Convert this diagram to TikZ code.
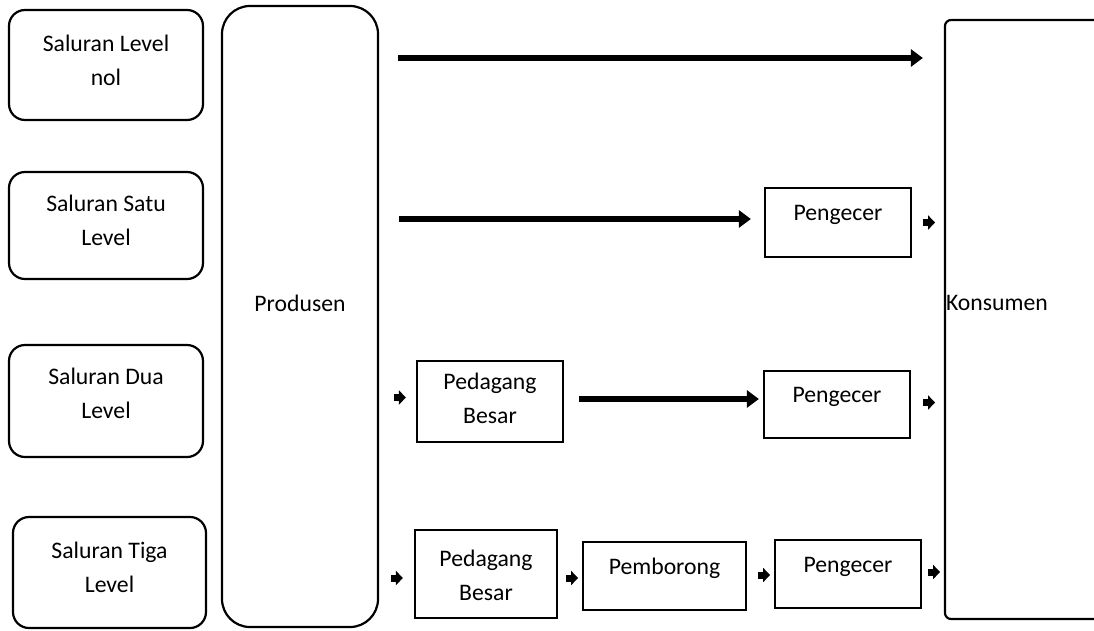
\documentclass[tikz,border=0pt]{standalone}
\usepackage{fontspec}
\setmainfont{Carlito}
\usetikzlibrary{arrows.meta,calc}
\begin{document}
\begin{tikzpicture}[x=1pt,y=-1pt,
  rbox/.style={draw, line width=2.2pt, rounded corners=16pt, inner sep=0pt},
  sbox/.style={draw, line width=2.2pt, inner sep=0pt},
  txt/.style={align=center, font=\fontsize{23.7}{34}\selectfont, inner sep=0pt},
  bigarrow/.style={line width=6.5pt, -{Triangle[length=12pt,width=17pt]}},
  smallarrow/.style={line width=7pt, -{Triangle[length=7pt,width=14pt]}},
]
\useasboundingbox (0,0) rectangle (1094,630);
\clip (0,0) rectangle (1094,630);

% left rounded boxes
\node[rbox, minimum width=194pt, minimum height=110pt] (b1) at (106,65) {};
\node[rbox, minimum width=194pt, minimum height=107pt] (b2) at (106,225.5) {};
\node[rbox, minimum width=194pt, minimum height=112pt] (b3) at (106,401) {};
\node[rbox, minimum width=193pt, minimum height=111pt] (b4) at (109.5,572.5) {};
\node[txt] (b1t) at ([yshift=5pt]b1.center) {Saluran Level\\nol};
\node[txt] (b2t) at ([yshift=5.5pt]b2.center) {Saluran Satu\\Level};
\node[txt] (b3t) at ([yshift=8pt]b3.center) {Saluran Dua\\Level};
\node[txt] (b4t) at ([yshift=5.5pt]b4.center) {Saluran Tiga\\Level};

% Produsen and Konsumen
\node[draw, line width=2.2pt, rounded corners=28pt, minimum width=156pt, minimum height=621pt] (produsen) at (300,316.5) {};
\node[txt] (produsent) at ([yshift=13.5pt]produsen.center) {Produsen};
\node[draw, line width=2.2pt, rounded corners=6pt, minimum width=500pt, minimum height=599pt] (konsumen) at (1195,319.5) {};
\node[txt] (konsument) at ($(konsumen.west)+(53,-16.5)$) {Konsumen};

% intermediate boxes
\node[sbox, minimum width=146pt, minimum height=69pt] (pg1) at (838,222.5) {};
\node[sbox, minimum width=146pt, minimum height=81pt] (pb1) at (490,401.5) {};
\node[sbox, minimum width=146pt, minimum height=67pt] (pg2) at (837,404.5) {};
\node[sbox, minimum width=142pt, minimum height=88pt] (pb2) at (486,574) {};
\node[sbox, minimum width=163pt, minimum height=68pt] (pem) at (664.5,576) {};
\node[sbox, minimum width=146pt, minimum height=68pt] (pg3) at (848,574) {};
\node[txt] (pg1t) at ([yshift=7.5pt]pg1.center) {Pengecer};
\node[txt] (pb1t) at ([yshift=3pt]pb1.center) {Pedagang\\Besar};
\node[txt] (pg2t) at ([yshift=7.5pt]pg2.center) {Pengecer};
\node[txt] (pb2t) at ([yshift=-1pt]pb2.center) {Pedagang\\Besar};
\node[txt] (pemt) at ([yshift=8pt]pem.center) {Pemborong};
\node[txt] (pg3t) at ([yshift=7pt]pg3.center) {Pengecer};

% row coordinates
\coordinate (r1) at (0,58);
\coordinate (r2) at (0,219);
\coordinate (r3) at (0,399);

% big arrows
\draw[bigarrow] ($(produsen.east |- r1)+(19,0)$) -- ($(konsumen.west |- r1)+(-21,0)$);
\draw[bigarrow] ($(produsen.east |- r2)+(20,0)$) -- ($(pg1.west |- r2)+(-13,0)$);
\draw[bigarrow] ($(pb1.east |- r3)+(15,0)$) -- ($(pg2.west |- r3)+(-4,0)$);

% small arrows
\draw[smallarrow] ($(pg1.east)+(11,0)$) -- ++(12,0);
\draw[smallarrow] ($(pb1.west)+(-22,-4)$) -- ++(12,0);
\draw[smallarrow] ($(pg2.east)+(12,-2)$) -- ++(12,0);
\draw[smallarrow] ($(pb2.west)+(-23,4)$) -- ++(12,0);
\draw[smallarrow] ($(pb2.east)+(8,4)$) -- ++(12,0);
\draw[smallarrow] ($(pem.east)+(11,-1)$) -- ++(12,0);
\draw[smallarrow] ($(pg3.east)+(6,-2)$) -- ++(12,0);
\end{tikzpicture}
\end{document}
